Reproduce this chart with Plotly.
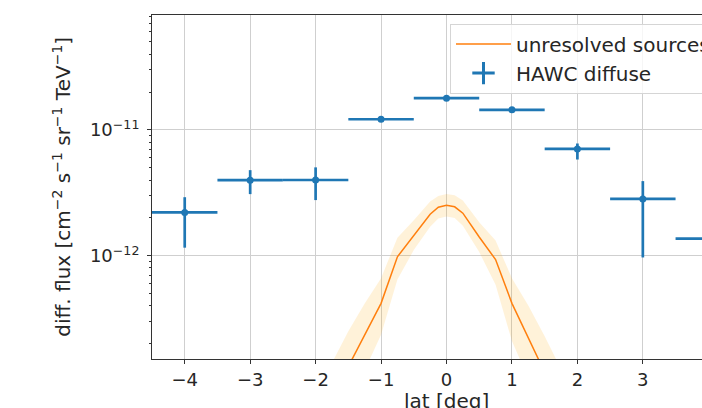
import numpy as np
import plotly.graph_objects as go

# HAWC diffuse points
lat = [-4, -3, -2, -1, 0, 1, 2, 3, 4]
flux = [2.21e-12, 3.99e-12, 4.0e-12, 1.216e-11, 1.787e-11, 1.443e-11, 7.06e-12, 2.83e-12, 1.37e-12]
flux_hi = [2.92e-12, 4.79e-12, 5.04e-12, 1.24e-11, 1.82e-11, 1.47e-11, 7.8e-12, 3.92e-12, 1.6e-12]
flux_lo = [1.16e-12, 3.09e-12, 2.77e-12, 1.19e-11, 1.75e-11, 1.41e-11, 5.82e-12, 9.7e-13, 1.15e-12]
lat_halfwidth = [0.5] * 9

# unresolved sources curve with band
src_lat = [-2, -1.75, -1.5, -1.25, -1, -0.75, -0.5, -0.25, -0.125, 0, 0.125, 0.25, 0.5, 0.75, 1, 1.25, 1.5, 1.75, 2]
src_flux = [3.55e-14, 7.08e-14, 1.32e-13, 2.34e-13, 4.19e-13, 9.82e-13, 1.46e-12, 2.14e-12, 2.43e-12, 2.52e-12,
            2.45e-12, 2.18e-12, 1.41e-12, 9.33e-13, 4.19e-13, 2.26e-13, 1.20e-13, 6.31e-14, 3.16e-14]
src_hi = [7.08e-14, 1.41e-13, 2.51e-13, 4.17e-13, 6.64e-13, 1.39e-12, 1.92e-12, 2.70e-12, 2.99e-12, 3.10e-12,
          3.02e-12, 2.75e-12, 1.85e-12, 1.32e-12, 6.64e-13, 4.03e-13, 2.29e-13, 1.26e-13, 6.31e-14]
src_lo = [1.78e-14, 3.55e-14, 6.61e-14, 1.23e-13, 2.36e-13, 6.49e-13, 1.11e-12, 1.70e-12, 1.98e-12, 2.05e-12,
          2.0e-12, 1.73e-12, 1.07e-12, 5.89e-13, 2.10e-13, 1.06e-13, 5.62e-14, 3.16e-14, 1.58e-14]

ytick_vals = [1e-12, 1e-11]
ytick_text = ["10<sup>−12</sup>", "10<sup>−11</sup>"]

BLUE = "#1f77b4"
ORANGE = "#ff7f0e"
TXT = "#262626"

fig = go.Figure()

fig.add_trace(go.Scatter(x=src_lat, y=src_lo, mode="lines", line=dict(width=0),
                         showlegend=False, hoverinfo="skip"))
fig.add_trace(go.Scatter(x=src_lat, y=src_hi, mode="lines", line=dict(width=0),
                         fill="tonexty", fillcolor="rgba(255,165,0,0.15)",
                         showlegend=False, hoverinfo="skip"))
fig.add_trace(go.Scatter(x=src_lat, y=src_flux, mode="lines", name="unresolved sources",
                         line=dict(color=ORANGE, width=1.5)))

f = np.array(flux)
fig.add_trace(go.Scatter(
    x=lat, y=flux, mode="markers", showlegend=False,
    marker=dict(color=BLUE, size=7),
    error_x=dict(type="data", array=lat_halfwidth, color=BLUE, thickness=2.7, width=0),
    error_y=dict(type="data", symmetric=False, array=(np.array(flux_hi) - f).tolist(),
                 arrayminus=(f - np.array(flux_lo)).tolist(), color=BLUE, thickness=2.7, width=0),
))
# legend entry for the errorbar series
fig.add_trace(go.Scatter(x=[None], y=[None], mode="markers", name="HAWC diffuse",
                         marker=dict(symbol="cross-thin", size=20, color=BLUE,
                                     line=dict(color=BLUE, width=3))))

axis_common = dict(
    showline=True, linecolor="#333", linewidth=1,
    ticks="outside", ticklen=4, tickcolor="#333", tickwidth=1,
    showgrid=True, gridcolor="#cfcfcf", gridwidth=1,
    zeroline=False,
    tickfont=dict(family="DejaVu Sans", size=18, color=TXT),
)

fig.update_xaxes(range=[-4.5, 4.5], tick0=0, dtick=1, mirror=True, **axis_common)
fig.update_yaxes(type="log", range=[-12.82, -10.087], tickvals=ytick_vals, ticktext=ytick_text,
                 ticklabelstandoff=4, mirror=True,
                 minor=dict(ticks="outside", ticklen=2, tickcolor="#333", showgrid=False,
                            tickvals=[m * 10.0 ** e for e in (-13, -12, -11) for m in range(2, 10)]),
                 **axis_common)

fig.update_layout(
    width=790, height=408,
    margin=dict(l=152, r=49, t=15, b=49, autoexpand=False),
    paper_bgcolor="white", plot_bgcolor="white",
    font=dict(family="DejaVu Sans", color=TXT),
    showlegend=True,
    legend=dict(x=(450 - 152) / 589, y=0.975, xanchor="left", yanchor="top", traceorder="normal",
                bgcolor="rgba(255,255,255,0.8)", bordercolor="#d5d5d5", borderwidth=1,
                font=dict(size=20, color=TXT), itemwidth=55, tracegroupgap=0),
    annotations=[
        dict(text="lat [deg]", x=0.5, xref="paper", y=0, yref="paper", yanchor="top", xanchor="center",
             yshift=-28, showarrow=False, font=dict(size=20, color=TXT)),
        dict(text="diff. flux [cm<sup>−2</sup> s<sup>−1</sup> sr<sup>−1</sup> TeV<sup>−1</sup>]",
             x=(61.7 - 152) / 589, xref="paper", y=0.5, yref="paper", xanchor="center", yanchor="middle",
             textangle=-90, showarrow=False, font=dict(size=20, color=TXT)),
    ],
)

fig.write_html(
    "out.html",
    config={"displayModeBar": False},
    post_script="document.documentElement.style.overflow='hidden';"
                "document.body.style.margin='0';document.body.style.overflow='hidden';",
)
